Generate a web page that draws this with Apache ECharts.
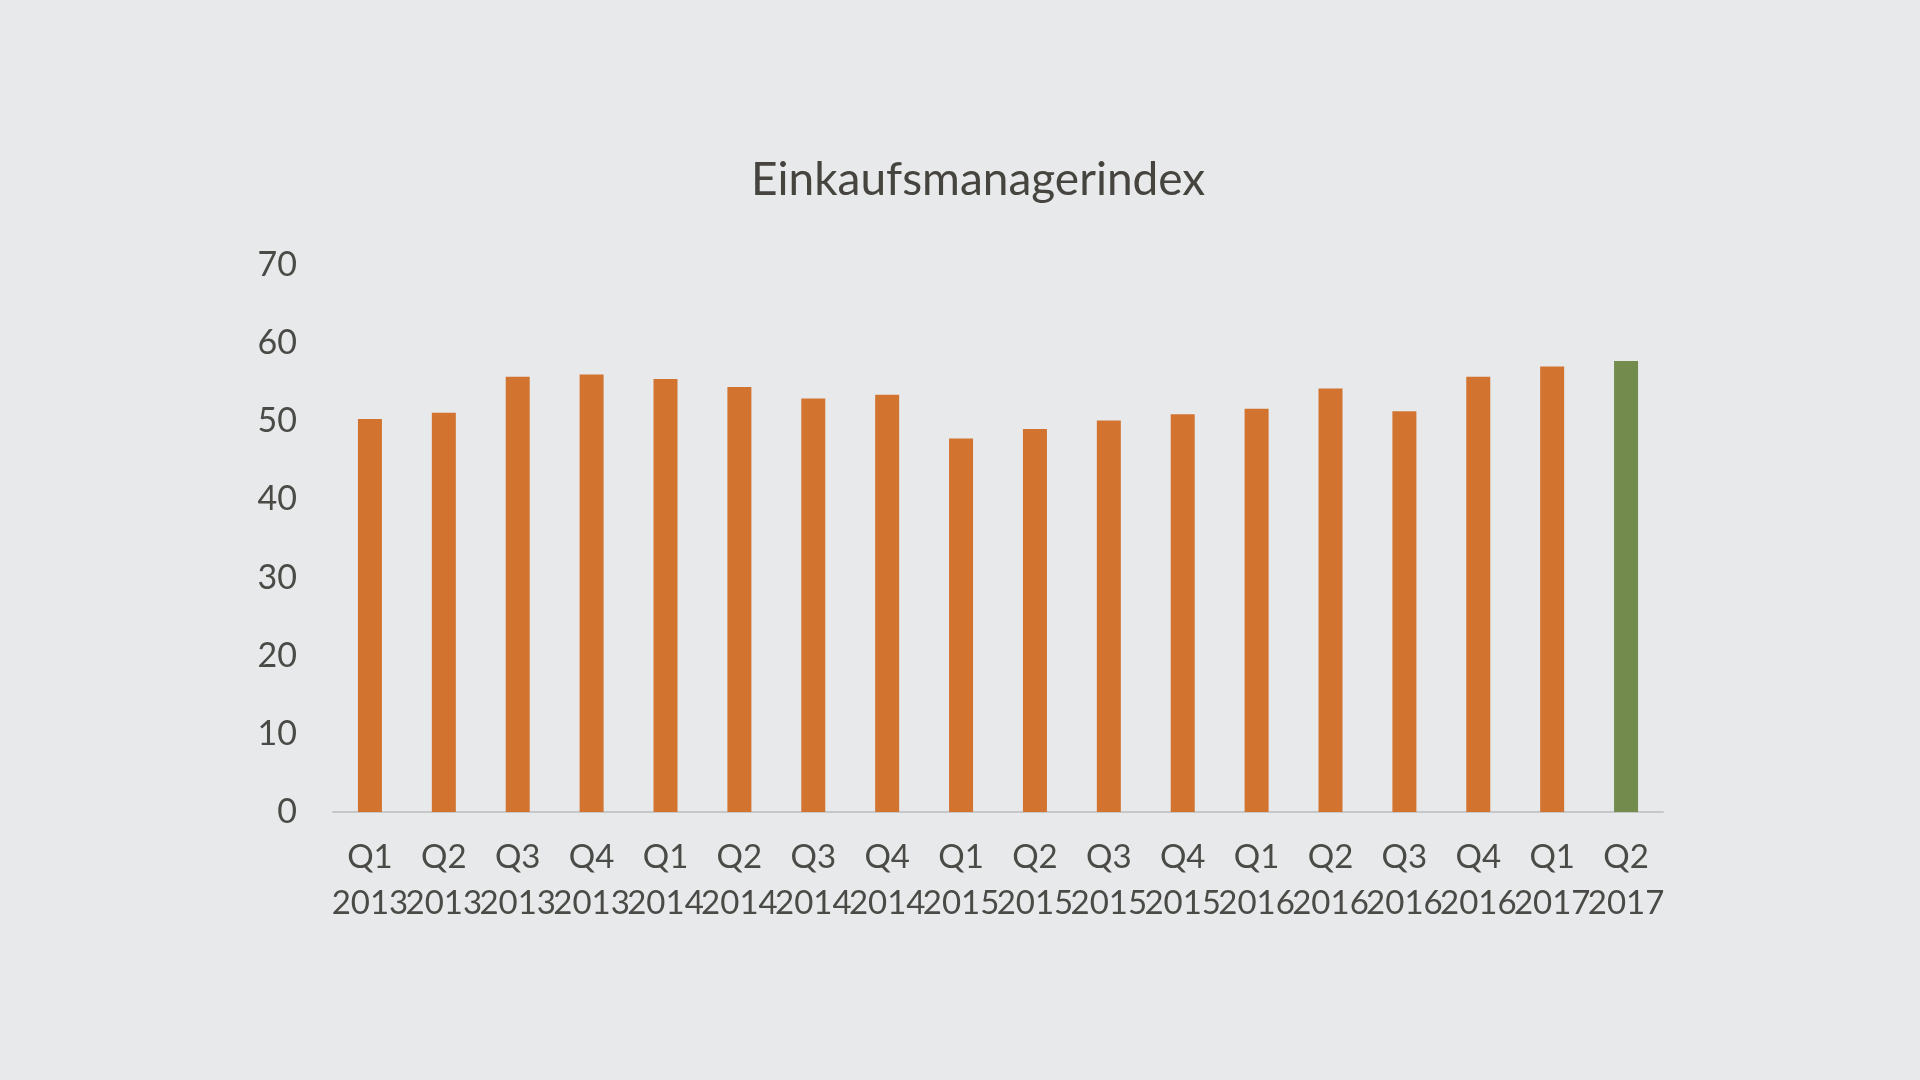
<!DOCTYPE html>
<html>
<head>
<meta charset="utf-8">
<title>Einkaufsmanagerindex</title>
<script src="https://cdn.jsdelivr.net/npm/echarts@6/dist/echarts.min.js"></script>
<style>
  html, body { margin: 0; padding: 0; background: #e8e9ea; }
  #chart { width: 1920px; height: 1080px; }
</style>
</head>
<body>
<div id="chart"></div>
<script>
// Data
const quarters = ['Q1', 'Q2', 'Q3', 'Q4', 'Q1', 'Q2', 'Q3', 'Q4', 'Q1', 'Q2', 'Q3', 'Q4', 'Q1', 'Q2', 'Q3', 'Q4', 'Q1', 'Q2'];
const years = ['2013', '2013', '2013', '2013', '2014', '2014', '2014', '2014', '2015', '2015', '2015', '2015', '2016', '2016', '2016', '2016', '2017', '2017'];
const pmiValues = [50.3, 51.1, 55.7, 56.0, 55.4, 54.4, 52.9, 53.4, 47.8, 49.0, 50.1, 50.9, 51.6, 54.2, 51.3, 55.7, 57.0, 57.7];
const highlightIndex = 17; // latest quarter in green
const yTicks = [0, 10, 20, 30, 40, 50, 60, 70];

const categories = quarters.map((q, i) => q + '\n' + years[i]);
const orange = '#d27430';
const green = '#738b4c';

const chart = echarts.init(document.getElementById('chart'));
chart.setOption({
  backgroundColor: '#e8e9ea',
  textStyle: { fontFamily: 'Lato, "Noto Sans", sans-serif' },
  title: {
    text: 'Einkaufsmanagerindex',
    left: 746,
    top: 152,
    textStyle: {
      fontSize: 46,
      fontWeight: 'normal',
      color: '#45443e',
      fontFamily: 'Lato, "Noto Sans", sans-serif'
    }
  },
  grid: { left: 333, right: 257, top: 265, bottom: 268, containLabel: false },
  xAxis: {
    type: 'category',
    data: categories,
    axisTick: { show: false },
    axisLine: { lineStyle: { color: '#c6c7c8', width: 2 } },
    axisLabel: {
      interval: 0,
      margin: 22,
      fontSize: 33,
      lineHeight: 46,
      color: '#4a4a46'
    }
  },
  yAxis: {
    type: 'value',
    min: yTicks[0],
    max: yTicks[yTicks.length - 1],
    interval: 10,
    splitLine: { show: false },
    axisLine: { show: false },
    axisTick: { show: false },
    axisLabel: { margin: 36, fontSize: 34, color: '#4a4a46' }
  },
  series: [{
    type: 'bar',
    barWidth: 24,
    data: pmiValues.map((v, i) => ({
      value: v,
      itemStyle: { color: i === highlightIndex ? green : orange }
    }))
  }]
});
</script>
</body>
</html>
